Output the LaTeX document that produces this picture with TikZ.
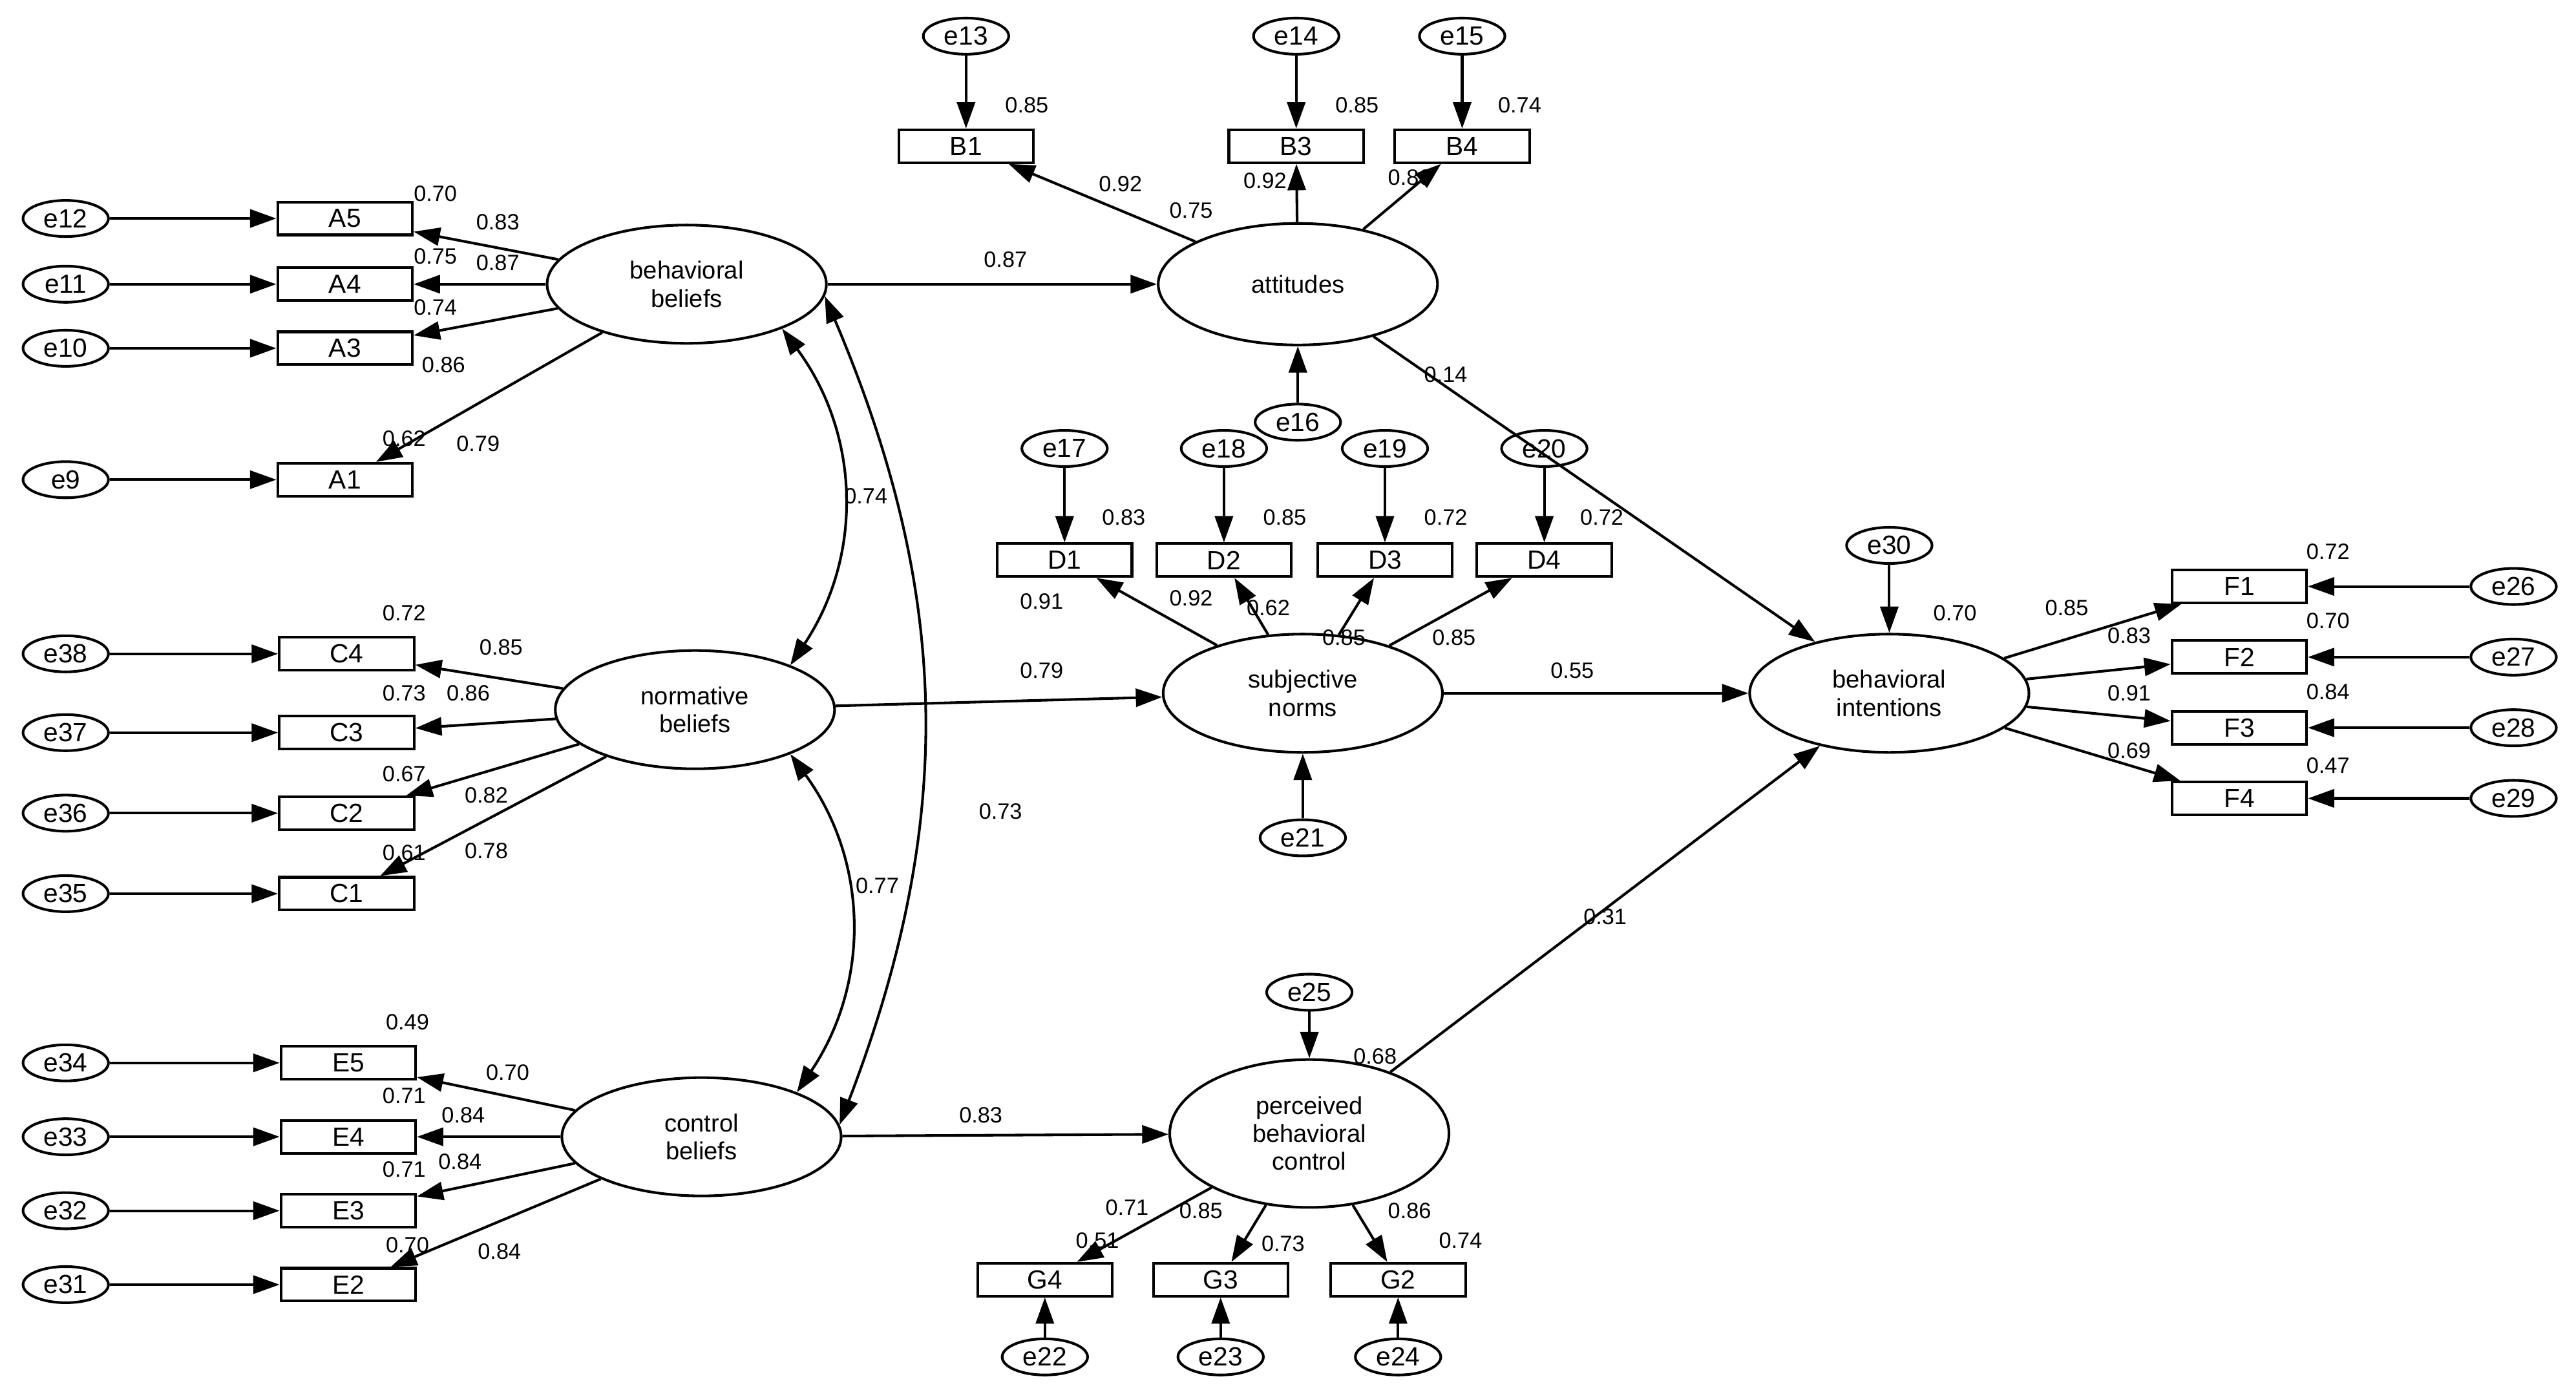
\documentclass[tikz,border=0pt]{standalone}
\usepackage{fontspec}
\setmainfont{Liberation Sans}
\usetikzlibrary{arrows.meta,shapes.geometric}
\begin{document}
\begin{tikzpicture}[x=1pt,y=-1pt,
  lat/.style={ellipse,draw,line width=1.6pt,minimum width=170pt,minimum height=72pt,inner sep=0pt,align=center,font=\fontsize{15}{17}\selectfont},
  box/.style={rectangle,draw,line width=1.6pt,minimum width=82pt,minimum height=20pt,inner sep=0pt,font=\fontsize{16}{18}\selectfont},
  err/.style={ellipse,draw,line width=1.6pt,minimum width=52pt,minimum height=22pt,inner sep=0pt,font=\fontsize{16}{18}\selectfont},
  ar/.style={line width=1.6pt,-{Triangle[length=16pt,width=11pt]}},
  cov/.style={line width=1.6pt,{Triangle[length=16pt,width=11pt]}-{Triangle[length=16pt,width=11pt]}},
  lb/.style={font=\fontsize{13.5}{15}\selectfont,inner sep=0pt}]
\useasboundingbox (0,0) rectangle (1568,846);
% latent
\node[lat] (bb) at (418,173) {behavioral\\beliefs};
\node[lat] (nb) at (423,432) {normative\\beliefs};
\node[lat] (cb) at (427,692) {control\\beliefs};
\node[lat,minimum height=74pt] (at) at (790,173) {attitudes};
\node[lat] (sn) at (793,422) {subjective\\norms};
\node[lat,minimum height=90pt] (pbc) at (797,690) {perceived\\behavioral\\control};
\node[lat] (bi) at (1150,422) {behavioral\\intentions};
% A
\foreach \n/\y/\e in {A5/133/e12,A4/173/e11,A3/212/e10,A1/292/e9}{
  \node[box] (\n) at (210,\y) {\n};
  \node[err] (\e) at (40,\y) {\e};
  \draw[ar] (\e) -- (\n);
  \draw[ar] (bb) -- (\n);}
\foreach \n/\y/\e in {C4/398/e38,C3/446/e37,C2/495/e36,C1/544/e35}{
  \node[box] (\n) at (211,\y) {\n};
  \node[err] (\e) at (40,\y) {\e};
  \draw[ar] (\e) -- (\n);
  \draw[ar] (nb) -- (\n);}
\foreach \n/\y/\e in {E5/647/e34,E4/692/e33,E3/737/e32,E2/782/e31}{
  \node[box] (\n) at (212,\y) {\n};
  \node[err] (\e) at (40,\y) {\e};
  \draw[ar] (\e) -- (\n);
  \draw[ar] (cb) -- (\n);}
\foreach \n/\x/\e in {B1/588/e13,B3/789/e14,B4/890/e15}{
  \node[box] (\n) at (\x,89) {\n};
  \node[err] (\e) at (\x,22) {\e};
  \draw[ar] (\e) -- (\n);
  \draw[ar] (at) -- (\n);}
\foreach \n/\x/\e in {D1/648/e17,D2/745/e18,D3/843/e19,D4/940/e20}{
  \node[box] (\n) at (\x,341) {\n};
  \node[err] (\e) at (\x,273) {\e};
  \draw[ar] (\e) -- (\n);
  \draw[ar] (sn) -- (\n);}
\foreach \n/\y/\e in {F1/357/e26,F2/400/e27,F3/443/e28,F4/486/e29}{
  \node[box] (\n) at (1363,\y) {\n};
  \node[err] (\e) at (1530,\y) {\e};
  \draw[ar] (\e) -- (\n);
  \draw[ar] (bi) -- (\n);}
\foreach \n/\x/\e in {G4/636/e22,G3/743/e23,G2/851/e24}{
  \node[box] (\n) at (\x,779) {\n};
  \node[err] (\e) at (\x,826) {\e};
  \draw[ar] (\e) -- (\n);
  \draw[ar] (pbc) -- (\n);}
\node[err] (e16) at (790,257) {e16};
\node[err] (e21) at (793,510) {e21};
\node[err] (e30) at (1150,332) {e30};
\node[err] (e25) at (797,604) {e25};
\draw[ar] (e16) -- (at);
\draw[ar] (e21) -- (sn);
\draw[ar] (e30) -- (bi);
\draw[ar] (e25) -- (pbc);
% structural
\draw[ar] (bb) -- (at);
\draw[ar] (nb) -- (sn);
\draw[ar] (cb) -- (pbc);
\draw[ar] (at) -- (bi);
\draw[ar] (sn) -- (bi);
\draw[ar] (pbc) -- (bi);
% covariances
\draw[cov] (bb.-25) to[bend left=35] (nb.25);
\draw[cov] (bb.-5) to[bend left=22] (cb.5);
\draw[cov] (nb.-25) to[bend left=35] (cb.25);
% labels
\foreach \t/\x/\y in {0.70/265/118,0.83/303/135,0.75/265/156,0.87/303/160,0.74/265/187,0.86/270/222,0.62/246/267,0.79/291/270,
0.72/246/373,0.85/305/394,0.73/246/422,0.86/285/422,0.67/246/471,0.82/296/484,0.61/246/519,0.78/296/518,
0.49/248/622,0.70/309/653,0.71/246/667,0.84/282/679,0.71/246/712,0.84/280/707,0.70/248/758,0.84/304/762,
0.85/625/64,0.92/682/112,0.75/725/128,0.85/826/64,0.92/770/110,0.74/925/64,0.86/858/108,
0.87/612/158,0.14/880/228,0.74/527/302,0.73/609/494,0.77/534/539,
0.83/684/315,0.91/634/366,0.85/782/315,0.92/725/364,0.62/772/370,0.72/880/315,0.85/818/388,0.72/975/315,0.85/885/388,
0.79/634/408,0.55/957/408,0.70/1190/373,
0.72/1417/336,0.85/1258/370,0.70/1417/378,0.83/1296/387,0.84/1417/421,0.91/1296/422,0.47/1417/466,0.69/1296/457,
0.31/977/558,0.83/597/679,0.68/837/643,
0.71/686/735,0.51/668/755,0.85/731/737,0.73/781/757,0.86/858/737,0.74/889/755}
  \node[lb] at (\x,\y) {\t};
\end{tikzpicture}
\end{document}
